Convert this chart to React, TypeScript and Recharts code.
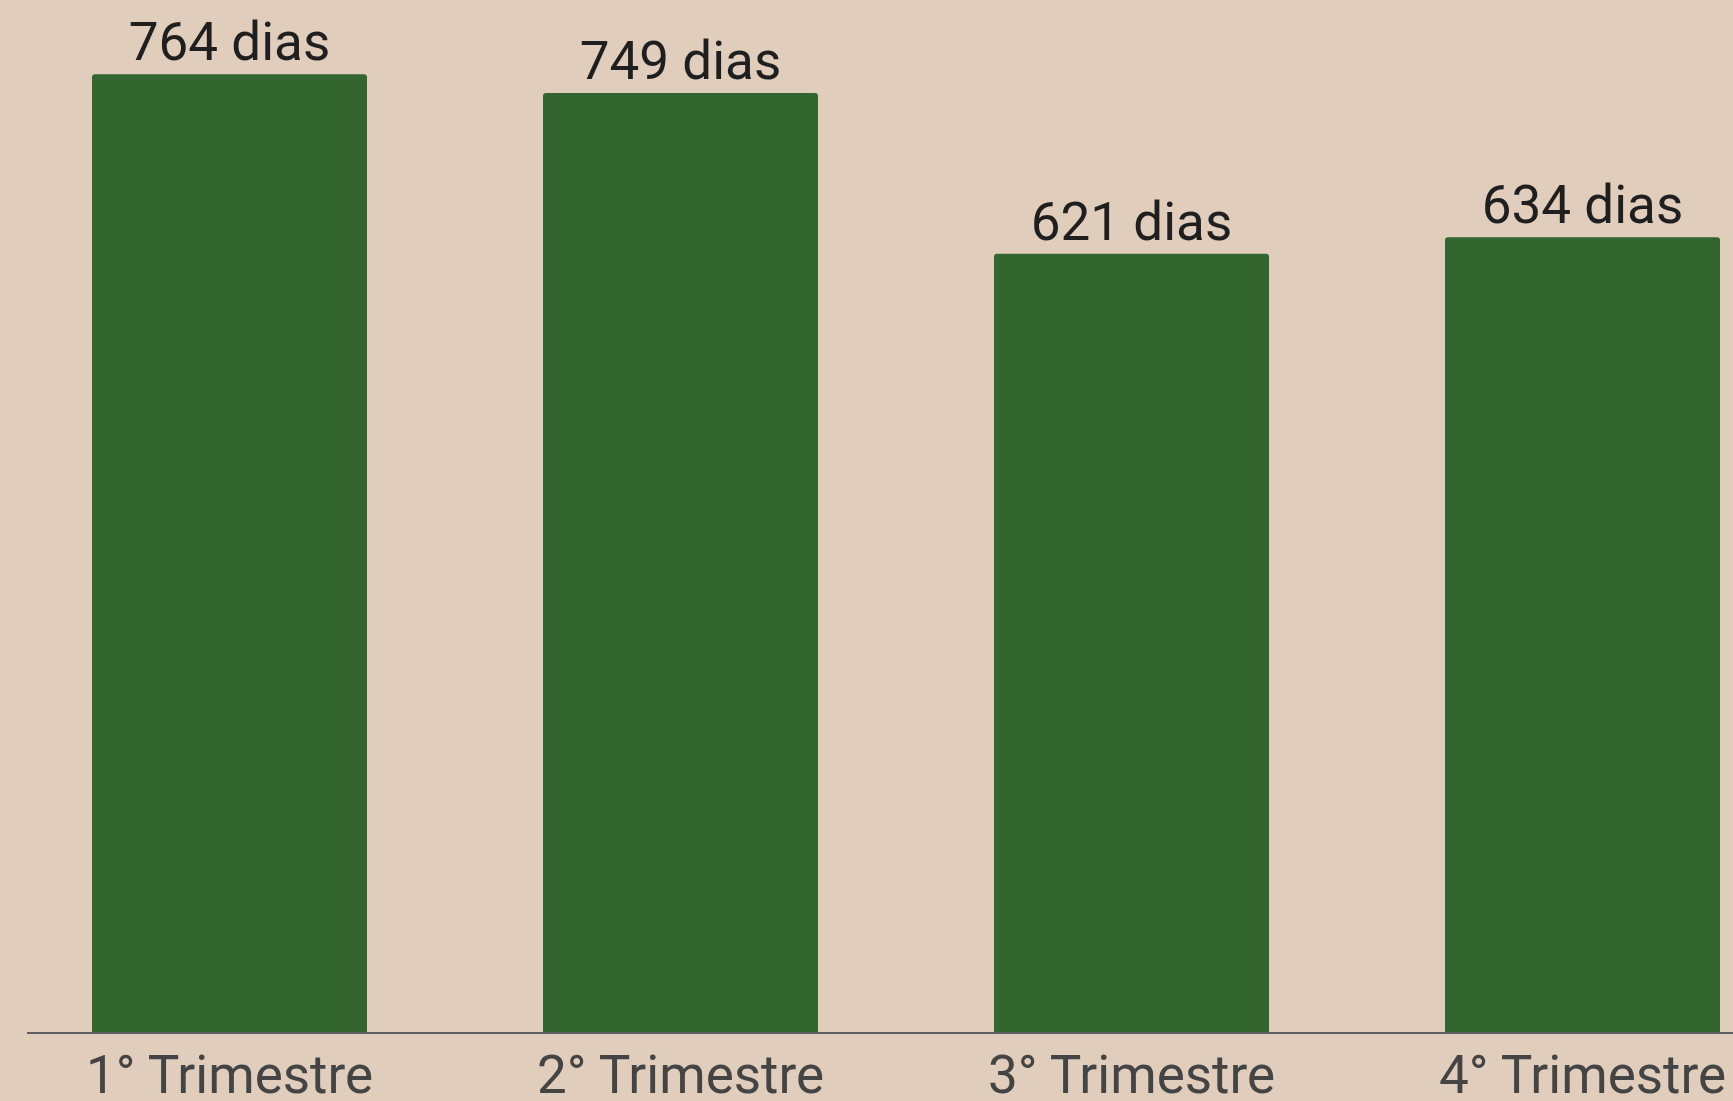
import { BarChart, Bar, XAxis, YAxis, LabelList } from "recharts"

// trimestres e dias
const trimestres = ["1° Trimestre", "2° Trimestre", "3° Trimestre", "4° Trimestre"]
const dias = [764, 749, 621, 634]

const data = trimestres.map((t, i) => ({ trimestre: t, dias: dias[i] }))

const BG = "#E0CDBB"
const BAR = "#33662E"

export default function App() {
  return (
    <div style={{
      position: "fixed", left: 0, top: 0, width: 1733, height: 1101,
      overflow: "hidden", background: BG, fontFamily: "Roboto, sans-serif",
    }}>
      <BarChart width={1808} height={1101} data={data}
        margin={{ top: 29, right: 0, bottom: 0, left: 27 }}>
        <XAxis dataKey="trimestre" interval={0} tickLine={false} tickSize={0} tickMargin={22}
          axisLine={{ stroke: "#5f5f5f", strokeWidth: 2 }}
          padding={{ left: -23, right: 0 }} height={68}
          tick={{ fontSize: 53, fill: "#444", fontFamily: "Roboto" }} />
        <YAxis hide domain={[0, 800]} />
        <Bar dataKey="dias" fill={BAR} barSize={275} radius={[3, 3, 0, 0]} isAnimationActive={false}>
          <LabelList dataKey="dias" position="top" offset={14}
            formatter={(v: any) => `${v} dias`}
            style={{ fontSize: 53, fill: "#1f1f1f", fontFamily: "Roboto" }} />
        </Bar>
      </BarChart>
    </div>
  )
}
